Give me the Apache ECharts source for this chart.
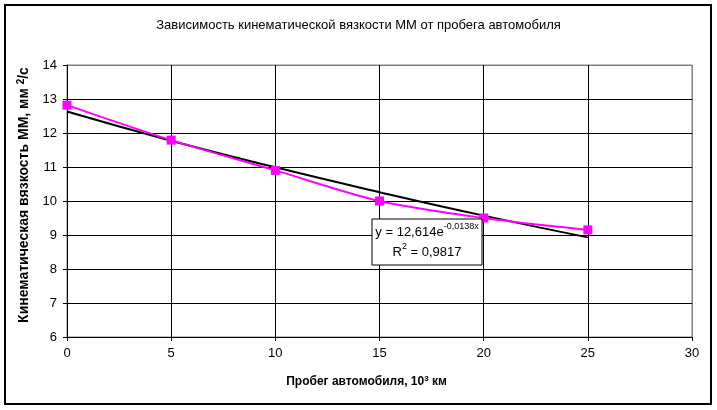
<!DOCTYPE html>
<html><head><meta charset="utf-8">
<script src="https://cdn.jsdelivr.net/npm/echarts@6/dist/echarts.min.js"></script>
<style>html,body{margin:0;padding:0;background:#fff}#c{width:717px;height:410px}</style>
</head><body><div id="c"></div>
<script>
const mileage = [0, 5, 10, 15, 20, 25];
const viscosity = [12.82, 11.79, 10.9, 10.0, 9.5, 9.15];
const trendX = [0, 5, 10, 15, 20, 25];
const trendY = [12.63, 11.77, 10.99, 10.26, 9.57, 8.93];
const xTicks = [0, 5, 10, 15, 20, 25, 30];
const yTicks = [6, 7, 8, 9, 10, 11, 12, 13, 14];
const titleText = 'Зависимость кинематической вязкости ММ от пробега автомобиля';

const chart = echarts.init(document.getElementById('c'), null, {renderer: 'canvas'});
const F = 'Liberation Sans, Arial, sans-serif';
const xColors = xTicks.map((v, i) => i === xTicks.length - 1 ? '#808080' : '#000');
const yColors = yTicks.map((v, i) => i === yTicks.length - 1 ? '#808080' : '#000');
chart.setOption({
  animation: false,
  backgroundColor: '#fff',
  title: {text: titleText, left: 'center', top: 14,
    textStyle: {fontFamily: F, fontSize: 13, fontWeight: 'normal', color: '#000'}},
  grid: {left: 67, right: 25, top: 65, bottom: 73, show: true, borderColor: '#808080', borderWidth: 1},
  xAxis: {type: 'value', min: xTicks[0], max: xTicks[xTicks.length - 1], interval: 5,
    name: 'Пробег автомобиля, 10{s|3} км', nameLocation: 'middle', nameGap: 38,
    nameTextStyle: {fontFamily: F, fontSize: 12, fontWeight: 'bold', color: '#000', padding: [0, 26, 0, 0],
      rich: {s: {fontFamily: F, fontSize: 8, fontWeight: 'bold', verticalAlign: 'top', padding: [0,0,6,0]}}},
    axisLine: {lineStyle: {color: '#000', width: 1}},
    axisTick: {show: true, inside: false, length: 4, lineStyle: {color: '#000'}},
    axisLabel: {fontFamily: F, fontSize: 13, color: '#000', margin: 10},
    splitLine: {show: true, lineStyle: {color: xColors, width: 1}}},
  yAxis: {type: 'value', min: yTicks[0], max: yTicks[yTicks.length - 1], interval: 1,
    name: 'Кинематическая вязкость ММ, мм {s|2}/с', nameLocation: 'middle', nameGap: 28, nameRotate: 90,
    nameTextStyle: {fontFamily: F, fontSize: 14, fontWeight: 'bold', color: '#000', padding: [0, 0, 0, 12],
      rich: {s: {fontFamily: F, fontSize: 10, fontWeight: 'bold', verticalAlign: 'top', padding: [0,0,6,0]}}},
    axisLine: {show: true, lineStyle: {color: '#000', width: 1}},
    axisTick: {show: true, inside: false, length: 4, lineStyle: {color: '#000'}},
    axisLabel: {fontFamily: F, fontSize: 13, color: '#000', margin: 10},
    splitLine: {show: true, lineStyle: {color: yColors, width: 1}}},
  series: [
    {type: 'line', name: 'trend', data: trendX.map((x, i) => [x, trendY[i]]), smooth: true,
     showSymbol: false, symbol: 'none', lineStyle: {color: '#000', width: 2}, z: 3},
    {type: 'line', name: 'data', data: mileage.map((x, i) => [x, viscosity[i]]), smooth: 0.3,
     symbol: 'rect', symbolSize: 9, itemStyle: {color: '#FF00FF'}, lineStyle: {color: '#FF00FF', width: 2}, z: 4}
  ],
  graphic: [
    {type: 'rect', shape: {x: 5, y: 5, width: 706, height: 399}, style: {fill: 'none', stroke: '#000', lineWidth: 2}, z: 10},
    {type: 'rect', shape: {x: 372, y: 219, width: 110, height: 46}, style: {fill: '#fff', stroke: '#000', lineWidth: 1}, z: 20},
    {type: 'text', x: 427, y: 242, z: 21, style: {
      text: 'y = 12,614e{s|-0,0138x}\nR{s|2} = 0,9817', align: 'center', verticalAlign: 'middle',
      fontFamily: F, fontSize: 13, fill: '#000', lineHeight: 20,
      rich: {s: {fontFamily: F, fontSize: 9, verticalAlign: 'top', padding: [0,0,6,0]}}}}
  ]
});
</script></body></html>
